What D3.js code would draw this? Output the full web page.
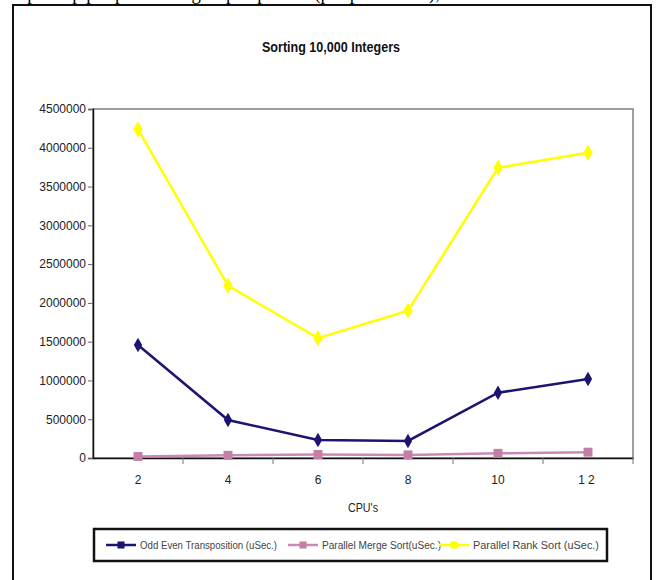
<!DOCTYPE html>
<html>
<head>
<meta charset="utf-8">
<script src="https://cdn.jsdelivr.net/npm/d3@7"></script>
<style>
  html, body { margin: 0; padding: 0; background: #fff; }
  svg { display: block; }
  text { font-family: "Liberation Sans", Arial, sans-serif; }
</style>
</head>
<body>
<svg id="chart" width="656" height="580"></svg>
<script>
// CPU counts on the x axis
const cpus = ["2", "4", "6", "8", "10", "12"];
// Run times in microseconds
const oddEven   = [1457000, 490000, 232000, 220000, 842000, 1019000];
const mergeSort = [20000, 35000, 45000, 40000, 60000, 75000];
const rankSort  = [4238000, 2222000, 1545000, 1900000, 3743000, 3937000];
// Y axis tick values
const yTicks = [0, 500000, 1000000, 1500000, 2000000, 2500000, 3000000, 3500000, 4000000, 4500000];

const seriesNames = ["Odd Even Transposition (uSec.)", "Parallel Merge Sort(uSec.)", "Parallel Rank Sort (uSec.)"];

const series = [
  { name: seriesNames[0], values: oddEven,   line: "#1b1470", fill: "#1b1470", symbol: d3.symbolDiamond, size: 60 },
  { name: seriesNames[1], values: mergeSort, line: "#c98bb3", fill: "#c47fa8", symbol: d3.symbolSquare,  size: 80 },
  { name: seriesNames[2], values: rankSort,  line: "#ffff00", fill: "#ffff00", symbol: d3.symbolDiamond, size: 75 }
];

const svg = d3.select("#chart");

// page text running above the figure frame
svg.append("text")
  .attr("x", 20).attr("y", -1)
  .attr("textLength", 420).attr("lengthAdjust", "spacingAndGlyphs")
  .style("font-family", "'Liberation Serif', 'Times New Roman', serif")
  .style("font-size", "21px")
  .attr("fill", "#000")
  .text("speedup per processor group is plotted (p = processors),");

// figure frame
svg.append("rect")
  .attr("x", 13).attr("y", 5).attr("width", 638).attr("height", 590)
  .attr("fill", "#fff").attr("stroke", "#111").attr("stroke-width", 2);

const plot = { left: 93, right: 633, top: 109, bottom: 458 };

const x = d3.scaleBand().domain(cpus).range([plot.left, plot.right]).padding(0);
const xc = c => x(c) + x.bandwidth() / 2;
const y = d3.scaleLinear().domain([0, 4500000]).range([plot.bottom, plot.top]);

// plot area frame
svg.append("rect")
  .attr("x", plot.left).attr("y", plot.top)
  .attr("width", plot.right - plot.left).attr("height", plot.bottom - plot.top)
  .attr("fill", "none").attr("stroke", "#808080").attr("stroke-width", 1.5);

// title
svg.append("text")
  .attr("x", 331).attr("y", 52)
  .attr("text-anchor", "middle")
  .attr("textLength", 138).attr("lengthAdjust", "spacingAndGlyphs")
  .style("font-size", "15px").style("font-weight", "bold")
  .attr("fill", "#111")
  .text("Sorting 10,000 Integers");

// y axis
const yAxis = svg.append("g")
  .attr("transform", `translate(${plot.left},0)`)
  .call(d3.axisLeft(y).tickValues(yTicks).tickFormat(d3.format("d")).tickSize(5).tickPadding(2));
yAxis.select(".domain").attr("stroke", "#111").attr("stroke-width", 1.5);
yAxis.selectAll(".tick line").attr("stroke", "#666");
yAxis.selectAll(".tick text")
  .style("font-size", "12px").attr("fill", "#222");

// x axis: labels at band centres, ticks at band boundaries
const xAxis = svg.append("g")
  .attr("transform", `translate(0,${plot.bottom})`)
  .call(d3.axisBottom(x).tickSize(0).tickPadding(17));
xAxis.select(".domain").attr("stroke", "#111").attr("stroke-width", 1.5);
xAxis.selectAll(".tick text")
  .style("font-size", "12px").attr("fill", "#222")
  .style("letter-spacing", d => d === "12" ? "3px" : "0px");
svg.append("g").selectAll("line")
  .data(cpus.slice(1).concat(["end"]))
  .join("line")
  .attr("x1", (d, i) => i < cpus.length - 1 ? x(d) : plot.right)
  .attr("x2", (d, i) => i < cpus.length - 1 ? x(d) : plot.right)
  .attr("y1", plot.bottom).attr("y2", plot.bottom + 6)
  .attr("stroke", "#777").attr("stroke-width", 1);

// x axis title
svg.append("text")
  .attr("x", 363).attr("y", 512)
  .attr("text-anchor", "middle")
  .attr("textLength", 30).attr("lengthAdjust", "spacingAndGlyphs")
  .style("font-size", "12px").attr("fill", "#222")
  .text("CPU's");

// series lines and markers (merge sort drawn first, rank sort last)
const lineGen = d3.line().x((d, i) => xc(cpus[i])).y(d => y(d));
const drawOrder = [1, 0, 2];
drawOrder.forEach(k => {
  const s = series[k];
  const g = svg.append("g");
  g.append("path")
    .attr("d", lineGen(s.values))
    .attr("fill", "none").attr("stroke", s.line).attr("stroke-width", 2.5);
  g.selectAll("path.m")
    .data(s.values)
    .join("path")
    .attr("class", "m")
    .attr("transform", (d, i) => `translate(${xc(cpus[i])},${y(d)})`)
    .attr("d", d3.symbol().type(s.symbol).size(s.size))
    .attr("fill", s.fill);
});

// legend
const legend = svg.append("g");
legend.append("rect")
  .attr("x", 94).attr("y", 529).attr("width", 513).attr("height", 32)
  .attr("fill", "#fff").attr("stroke", "#111").attr("stroke-width", 2.5);
const legendX = [106, 288, 439];
const legendW = [137, 119, 126];
series.forEach((s, i) => {
  const lx = legendX[i];
  legend.append("line")
    .attr("x1", lx).attr("x2", lx + 30).attr("y1", 545).attr("y2", 545)
    .attr("stroke", s.line).attr("stroke-width", 2.5);
  legend.append("path")
    .attr("transform", `translate(${lx + 15},545)`)
    .attr("d", d3.symbol().type(d3.symbolSquare).size(50))
    .attr("fill", s.fill);
  legend.append("text")
    .attr("x", lx + 34).attr("y", 548.5)
    .attr("textLength", legendW[i]).attr("lengthAdjust", "spacingAndGlyphs")
    .style("font-size", "10px").attr("fill", "#444")
    .text(s.name);
});
</script>
</body>
</html>
